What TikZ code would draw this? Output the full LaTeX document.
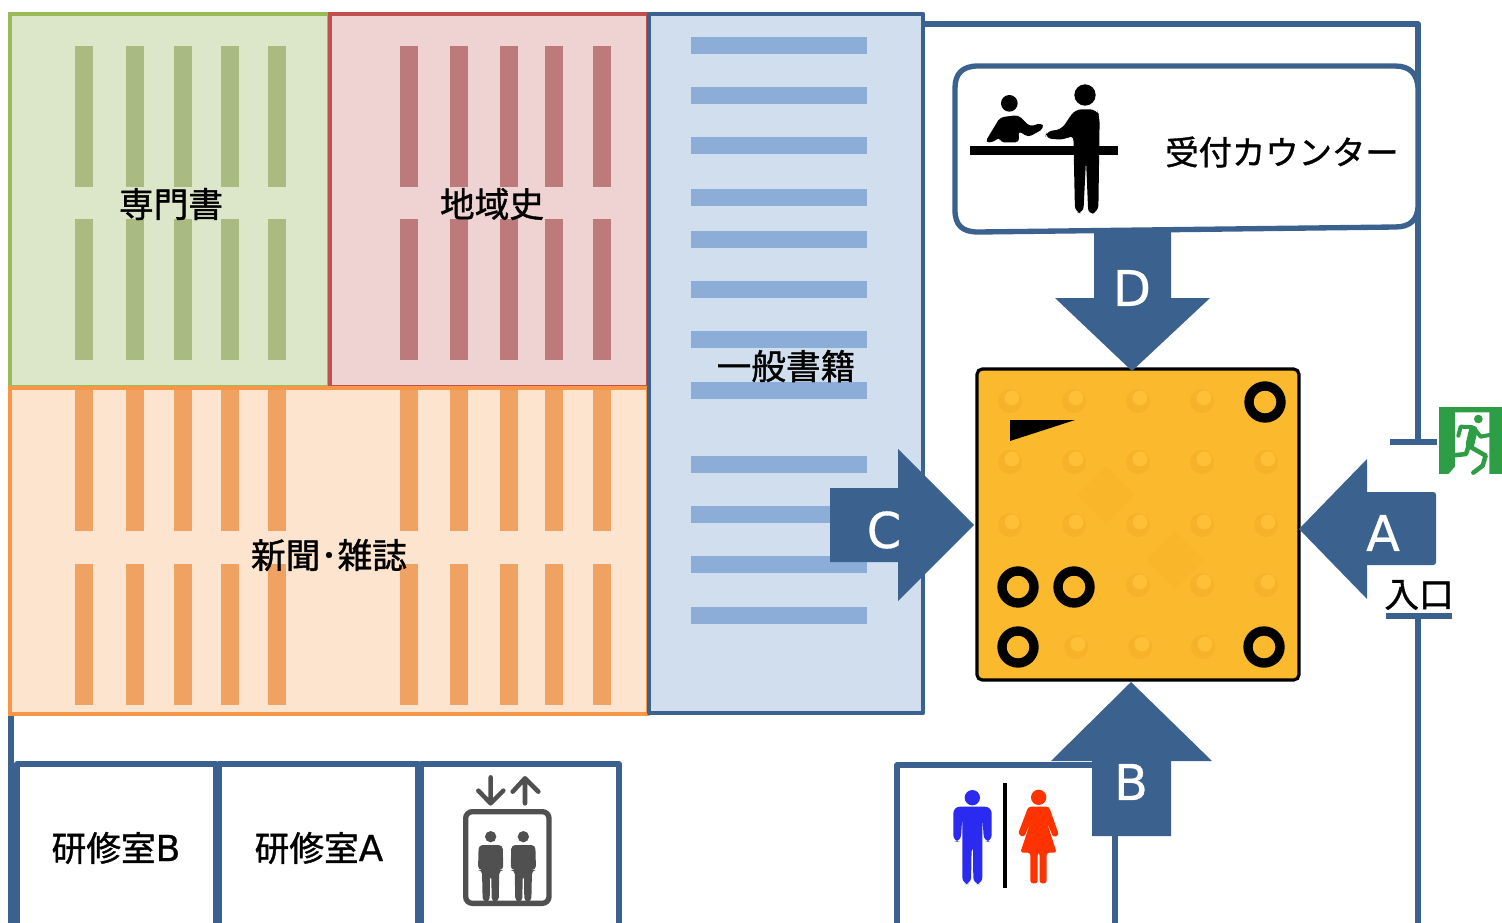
\documentclass[tikz,border=0pt]{standalone}
\usepackage{fontspec}
\setmainfont[FakeBold=1.1]{Noto Sans CJK JP}
\newfontfamily\latinf[FakeBold=0.6]{DejaVu Sans}
\newcommand{\vbars}[3]{\foreach \bx in {#1}{\foreach \by in {#2}{\fill[#3] (\bx,\by) rectangle ++(17.5,141);}}}
\definecolor{wall}{HTML}{3B618F}
\definecolor{tileY}{HTML}{FBB92E}
\definecolor{dotY}{HTML}{F6B228}
\definecolor{dotH}{HTML}{FDC036}
\definecolor{egreen}{HTML}{2E9E46}
\definecolor{egray}{HTML}{505050}
\definecolor{gLine}{RGB}{155,187,89}
\definecolor{gFill}{RGB}{220,230,200}
\definecolor{gBar}{RGB}{169,187,129}
\definecolor{rLine}{RGB}{192,80,77}
\definecolor{rFill}{RGB}{239,210,210}
\definecolor{rBar}{RGB}{188,122,122}
\definecolor{oLine}{RGB}{247,150,70}
\definecolor{oFill}{RGB}{253,228,207}
\definecolor{oBar}{RGB}{239,162,98}
\definecolor{bFill}{RGB}{208,222,237}
\definecolor{bBar}{RGB}{140,173,215}
\definecolor{manC}{RGB}{42,42,240}
\definecolor{womanC}{RGB}{255,51,0}
\tikzset{
  room/.style={draw=wall,line width=4pt,line join=round},
  zone/.style={line width=2.8pt},
  lbl/.style={font=\fontsize{26pt}{28pt}\selectfont,inner sep=0pt,text=black},
  letter/.style={font=\latinf\fontsize{37pt}{40pt}\selectfont,inner sep=0pt,text=white},
  blockarrow/.style={fill=wall,draw=none},
  ring/.style={draw=black,line width=7pt,fill=tileY},
  zoomed/.style={x=.25pt,y=-.25pt},
}
\begin{document}
\begin{tikzpicture}[x=.75pt,y=-.75pt]
\useasboundingbox (0,0) rectangle (1502,922);
% zones
\draw[room] (11,714) -- (11,926);
\draw[zone,draw=gLine,fill=gFill] (10,14) rectangle (329,387);
\draw[zone,draw=rLine,fill=rFill] (330,14) rectangle (648,387);
\draw[zone,draw=oLine,fill=oFill] (10,388) rectangle (648,714);
\draw[room,line width=3.2pt,fill=bFill] (649,14) rectangle (923,713);
% shelves
\vbars{75,126,174,221,268}{46,219}{gBar}
\vbars{400,450,500,545,593}{46,219}{rBar}
\vbars{75,126,174,221,268,400,450,500,545,593}{390,564}{oBar}
\foreach \hy in {45,95,145,197,239,289,339,390,464,514,564,615}{\fill[bBar] (691,\hy-8.5) rectangle (867,\hy+8.5);}
% walls
\draw[room] (923,24) -- (1418,24) -- (1418,442);
\draw[room] (1390,442) -- (1437,442);
\draw[room] (1386,616) -- (1452,616);
\draw[room] (1418,616) -- (1418,926);
\draw[room] (17,926) -- (17,764) -- (216,764) -- (216,926);
\draw[room] (219,926) -- (219,764) -- (418,764) -- (418,926);
\draw[room] (421,926) -- (421,764) -- (619,764) -- (619,926);
\draw[room] (897,926) -- (897,765) -- (1115,765) -- (1115,926);
% counter
\draw[room,fill=white] (978,66) -- (1395,66) .. controls (1410,66) and (1418,74) .. (1418,90) -- (1418,205) .. controls (1418,220) and (1410,227) .. (1395,227) -- (978,232) .. controls (962,232) and (955,225) .. (955,210) -- (955,88) .. controls (955,74) and (962,66) .. (978,66) -- cycle;
% reception icon
\begin{scope}[shift={(950,60)},zoomed]
\fill (60,258) rectangle (503,285);
\fill (405,105) circle (32);
\fill (178,130) circle (25);
\fill[rounded corners=5pt] (375,148) -- (440,148) -- (449,170) -- (445,455) -- (415,465) -- (408,300) -- (400,460) -- (375,458) -- (370,222) -- (345,240) -- (285,235) -- (290,212) -- (333,210) -- cycle;
\fill[rounded corners=3pt] (105,247) -- (150,172) -- (205,165) -- (240,200) -- (275,188) -- (282,205) -- (235,232) -- (205,212) -- (208,247) -- (150,247) -- (150,230) -- (130,247) -- cycle;
\end{scope}
% tile
\draw[draw=black,line width=2.4pt,fill=tileY,rounded corners=4pt] (977,369) rectangle (1299,680);
\begin{scope}[rotate around={45:(1106,495)}]
\fill[dotY,opacity=.4] (1085,474) rectangle (1127,516);
\end{scope}
\begin{scope}[rotate around={45:(1175,560)}]
\fill[dotY,opacity=.4] (1154,539) rectangle (1196,581);
\end{scope}
\foreach \dx/\dy in {1010/401,1074/401,1138/401,1202/401,
  1010/462,1074/462,1138/462,1202/462,1266/462,
  1010/525,1074/525,1138/525,1202/525,1266/525,
  1138/585,1202/585,1266/585,
  1076/647,1140/647,1203/647}{
  \fill[dotY] (\dx,\dy) circle (12);
  \fill[dotH] (\dx+2,\dy-3) circle (7.5);
}
\fill (1010,420) -- (1075,420) -- (1010,441) -- cycle;
\foreach \rx/\ry in {1265/402,1018/587,1074/587,1018/647,1264/647}{\draw[ring] (\rx,\ry) circle (16);}
% exit sign
\begin{scope}[shift={(1370,395)},zoomed]
\fill[egreen] (208,35) rectangle (396,238);
\fill[white] (255,52) -- (358,52) -- (358,238) -- (235,238) -- (255,215) -- cycle;
\fill[egreen] (325,72) circle (13);
\begin{scope}[egreen,line cap=round,line join=round]
\draw[line width=6.5pt] (310,105) -- (300,148);
\draw[line width=3pt] (305,96) -- (272,95) -- (265,122);
\draw[line width=3pt] (312,100) -- (332,125) -- (358,120);
\draw[line width=3.4pt] (295,155) -- (288,177) -- (242,182);
\draw[line width=3.4pt] (300,155) -- (347,182) -- (338,212) -- (310,233);
\end{scope}
\end{scope}
% elevator
\begin{scope}[shift={(420,760)},zoomed,egray]
\draw[line width=4pt,rounded corners=5pt] (137,155) rectangle (387,430);
\draw[line width=3.4pt,line cap=round,line join=round] (212,52) -- (212,128) (175,92) -- (212,130) -- (250,92);
\draw[line width=3.4pt,line cap=round,line join=round] (315,130) -- (315,55) (278,95) -- (315,55) -- (355,95);
\foreach \pe in {212,310}{
  \fill[egray] (\pe,230) circle (17);
  \fill[egray,rounded corners=3pt,shift={(\pe,0)}] (-36,255) -- (36,255) -- (38,330) -- (26,330) -- (24,425) -- (3,425) -- (2,345) -- (-2,345) -- (-3,425) -- (-24,425) -- (-26,330) -- (-38,330) -- cycle;
}
\end{scope}
% toilet
\begin{scope}[shift={(890,750)},zoomed]
\fill[manC] (247,143) circle (23);
\fill[manC,rounded corners=5pt] (190,170) -- (305,170) -- (305,275) -- (282,275) -- (277,200) -- (277,402) -- (250,402) -- (249,285) -- (245,285) -- (243,402) -- (217,402) -- (217,200) -- (212,275) -- (190,275) -- cycle;
\fill (340,100) rectangle (352,415);
\fill[womanC] (446,142) circle (23);
\fill[womanC,rounded corners=2pt] (415,170) -- (477,170) -- (507,255) -- (490,262) -- (470,215) -- (500,308) -- (470,308) -- (470,400) -- (449,400) -- (449,308) -- (443,308) -- (443,400) -- (421,400) -- (421,308) -- (391,308) -- (422,215) -- (402,262) -- (384,252) -- cycle;
\end{scope}
% block arrows
\fill[blockarrow] (1094,232) -- (1171,232) -- (1171,298) -- (1210,298) -- (1132,371) -- (1055,298) -- (1094,298) -- cycle;
\fill[blockarrow] (830,488) -- (898,488) -- (898,449) -- (974,525) -- (898,601) -- (898,562) -- (830,562) -- cycle;
\fill[blockarrow,rounded corners=2pt] (1360,492) -- (1436,492) -- (1436,565) -- (1360,565) -- cycle;
\fill[blockarrow] (1367,459) -- (1299,529) -- (1367,599) -- cycle;
\fill[blockarrow] (1092,836) -- (1171,836) -- (1171,761) -- (1212,761) -- (1131,682) -- (1051,761) -- (1092,761) -- cycle;
\node[letter] (lD) at (1132,288) {D};
\node[letter] (lC) at (884,530) {C};
\node[letter] (lA) at (1383,533) {A};
\node[letter] (lB) at (1131,782) {B};
% labels
\node[lbl] (n1) at (171,204) {専門書};
\node[lbl] (n2) at (492,204) {地域史};
\node[lbl] (n3) at (329,555) {新聞･雑誌};
\node[lbl] (n4) at (786,366) {一般書籍};
\node[lbl,font=\fontsize{25pt}{28pt}\selectfont] (n5) at (1282,152) {受付カウンター};
\node[lbl] (n6) at (116,848) {研修室{\latinf\fontsize{27pt}{28pt}\selectfont B}};
\node[lbl] (n7) at (319,848) {研修室{\latinf\fontsize{27pt}{28pt}\selectfont A}};
\node[lbl] (n8) at (1419,595) {入口};
\end{tikzpicture}
\end{document}
